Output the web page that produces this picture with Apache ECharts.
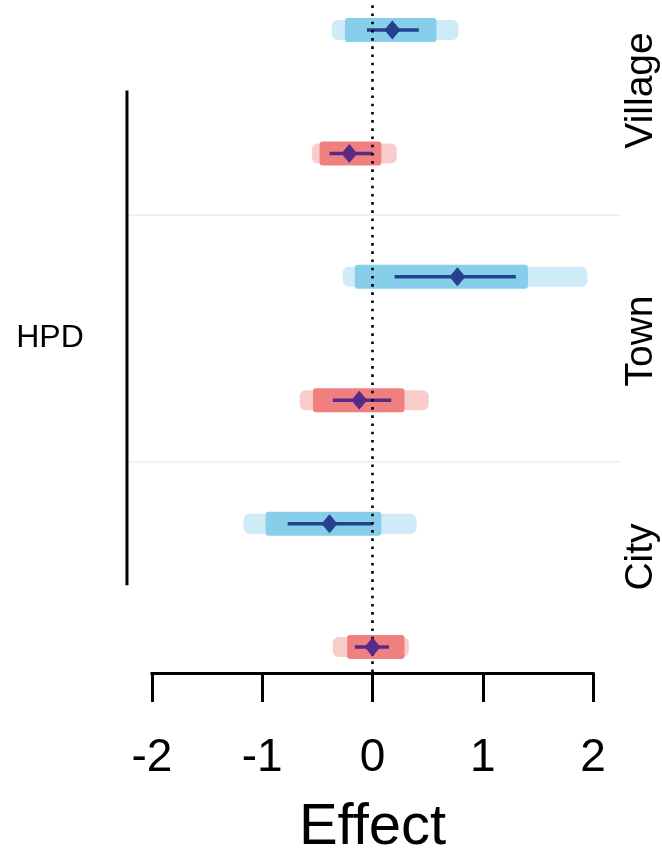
<!DOCTYPE html>
<html><head><meta charset="utf-8">
<script src="https://cdn.jsdelivr.net/npm/echarts@6/dist/echarts.min.js"></script>
<style>html,body{margin:0;padding:0;background:#fff}#c{width:662px;height:866px}</style>
</head><body><div id="c"></div>
<script>
// ---- data ----
const groups = ['Village', 'Town', 'City'];
const groupLabelRow = [0.49, 2.52, 4.27];
const separatorRow = [1.5, 3.5];
const rowType = ['blue', 'red', 'blue', 'red', 'blue', 'red'];
const cloudMin = [-0.37, -0.55, -0.27, -0.66, -1.17, -0.36];
const cloudMax = [0.78, 0.22, 1.95, 0.51, 0.40, 0.33];
const coreMin = [-0.25, -0.48, -0.16, -0.54, -0.97, -0.23];
const coreMax = [0.58, 0.08, 1.41, 0.29, 0.08, 0.29];
const estimate = [0.18, -0.21, 0.77, -0.12, -0.39, 0.0];
const ciLow = [-0.05, -0.39, 0.2, -0.36, -0.77, -0.16];
const ciHigh = [0.42, 0.0, 1.3, 0.17, 0.0, 0.15];
const xTicks = [-2, -1, 0, 1, 2];
const hpdLabel = 'HPD';
const hpdSpan = [0.49, 4.5];
const refValue = 0;

// ---- layout / style ----
const L = { sepX: [-2.227, 2.245], hpdX: -2.227, hpdTextX: -2.925, groupTextX: 2.435, yMin: -0.243, yMax: 5.21, refTop: -0.2 };
const cloudCol = { blue: '#87CEEB', red: '#F08080' };
const markCol = { blue: '#25408C', red: '#5A2A88' };
const FONT = 'Liberation Sans, Arial, sans-serif';

const rows = rowType.map((t, i) => i);
const chart = echarts.init(document.getElementById('c'), null, { renderer: 'canvas' });

chart.setOption({
  animation: false,
  backgroundColor: '#fff',
  grid: { left: 152, right: 69, top: 0, bottom: 193, containLabel: false, outerBoundsMode: 'none' },
  xAxis: {
    type: 'value', min: xTicks[0], max: xTicks[xTicks.length - 1], interval: 1,
    position: 'bottom',
    axisLine: { show: true, onZero: false, lineStyle: { color: '#000', width: 3, cap: 'square' } },
    axisTick: { show: true, inside: false, length: 29, lineStyle: { color: '#000', width: 3 } },
    axisLabel: { show: true, fontSize: 46, color: '#000', margin: 62, fontFamily: FONT },
    splitLine: { show: false },
    name: 'Effect', nameLocation: 'middle', nameGap: 126,
    nameTextStyle: { fontSize: 58, color: '#000', fontFamily: FONT }
  },
  yAxis: { type: 'value', inverse: true, min: L.yMin, max: L.yMax, show: false },
  series: [
    { // annotations: separators, HPD bar and labels
      type: 'custom', clip: false, silent: true, z: 1,
      data: [[0, 0]],
      renderItem: function (params, api) {
        const ch = [];
        separatorRow.forEach(r => {
          const a = api.coord([L.sepX[0], r]), b = api.coord([L.sepX[1], r]);
          ch.push({ type: 'line', shape: { x1: a[0], y1: a[1], x2: b[0], y2: b[1] }, style: { stroke: '#e3e3e3', lineWidth: 1 } });
        });
        const h0 = api.coord([L.hpdX, hpdSpan[0]]), h1 = api.coord([L.hpdX, hpdSpan[1]]);
        ch.push({ type: 'line', shape: { x1: h0[0], y1: h0[1], x2: h1[0], y2: h1[1] }, style: { stroke: '#000', lineWidth: 3 } });
        const hm = api.coord([L.hpdTextX, (hpdSpan[0] + hpdSpan[1]) / 2]);
        ch.push({ type: 'text', x: hm[0], y: hm[1], style: { text: hpdLabel, fontSize: 32, fontFamily: FONT, fill: '#000', align: 'center', verticalAlign: 'middle' } });
        groups.forEach((g, k) => {
          const p = api.coord([L.groupTextX, groupLabelRow[k]]);
          ch.push({ type: 'text', x: p[0], y: p[1], rotation: Math.PI / 2, style: { text: g, fontSize: 39, fontFamily: FONT, fill: '#000', align: 'center', verticalAlign: 'middle' } });
        });
        return { type: 'group', children: ch };
      }
    },
    { // posterior clouds
      type: 'custom', z: 2, clip: false,
      data: rows.map(i => [cloudMin[i], cloudMax[i], coreMin[i], coreMax[i], i]),
      encode: { x: [0, 1], y: 4 },
      renderItem: function (params, api) {
        const i = api.value(4);
        const col = cloudCol[rowType[i]];
        const a = api.coord([api.value(0), i]), b = api.coord([api.value(1), i]);
        const c = api.coord([api.value(2), i]), d = api.coord([api.value(3), i]);
        return { type: 'group', children: [
          { type: 'rect', shape: { x: a[0], y: a[1] - 10, width: b[0] - a[0], height: 20, r: 6 }, style: { fill: col, opacity: 0.4 } },
          { type: 'rect', shape: { x: c[0], y: c[1] - 12, width: d[0] - c[0], height: 24, r: 3 }, style: { fill: col } }
        ] };
      }
    },
    { // intervals
      type: 'custom', z: 3, clip: false,
      data: rows.map(i => [ciLow[i], ciHigh[i], i]),
      encode: { x: [0, 1], y: 2 },
      renderItem: function (params, api) {
        const i = api.value(2);
        const a = api.coord([api.value(0), i]), b = api.coord([api.value(1), i]);
        return { type: 'line', shape: { x1: a[0], y1: a[1], x2: b[0], y2: b[1] }, style: { stroke: markCol[rowType[i]], lineWidth: 3.5 } };
      }
    },
    { // zero reference line
      type: 'custom', z: 4, clip: false, silent: true,
      data: [[refValue]],
      renderItem: function (params, api) {
        const a = api.coord([api.value(0), L.refTop]), b = api.coord([api.value(0), L.yMax]);
        return { type: 'line', shape: { x1: a[0], y1: a[1], x2: b[0], y2: b[1] }, style: { stroke: '#000', lineWidth: 2.6, lineDash: [2.6, 5.6] } };
      }
    },
    { // point estimates
      type: 'scatter', z: 5, symbol: 'diamond', symbolSize: [16, 19],
      data: rows.map(i => ({ value: [estimate[i], i], itemStyle: { color: markCol[rowType[i]], opacity: 1 } }))
    }
  ]
});
</script>
</body></html>
